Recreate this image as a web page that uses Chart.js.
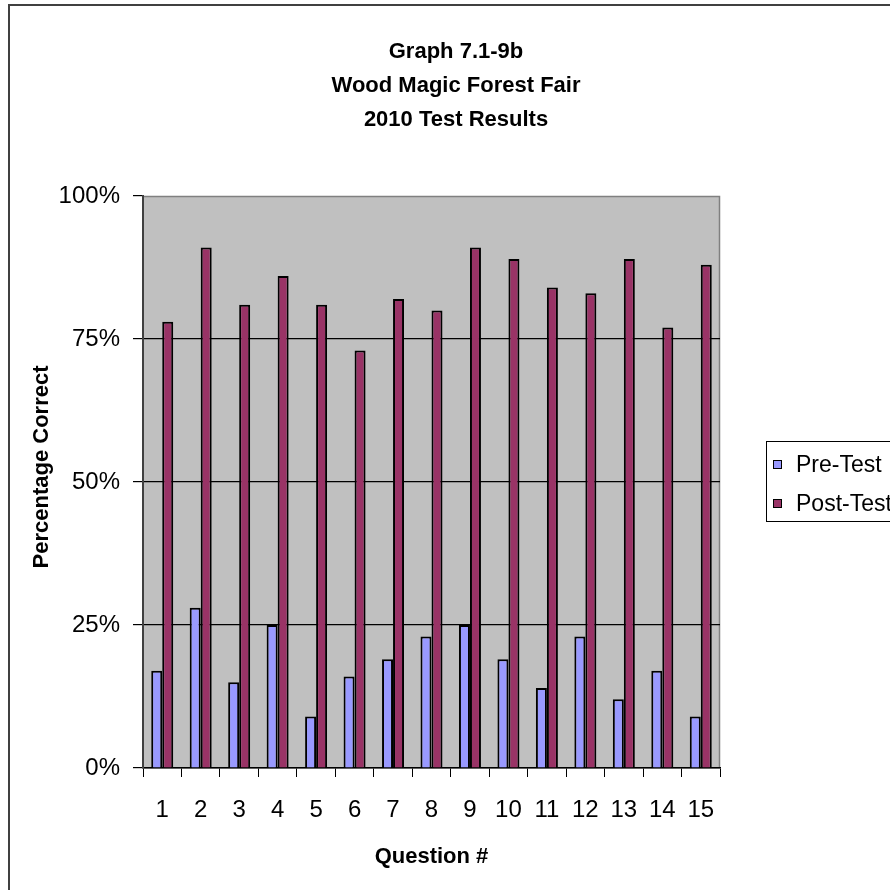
<!DOCTYPE html>
<html>
<head>
<meta charset="utf-8">
<script src="https://cdn.jsdelivr.net/npm/chart.js@4/dist/chart.umd.min.js"></script>
<style>
body{margin:0;background:#fff;overflow:hidden}
#wrap{position:relative;width:890px;height:890px}
#frame{position:absolute;left:8px;top:4px;width:1000px;height:1000px;border:2px solid #404040}
canvas{position:absolute;left:0;top:0}
</style>
</head>
<body>
<div id="wrap">
<div id="frame"></div>
<canvas id="c" width="890" height="890"></canvas>
</div>
<script>

const questions=["1","2","3","4","5","6","7","8","9","10","11","12","13","14","15"]
const preTest=[17,28,15,25,9,16,19,23,25,19,14,23,12,17,9]
const postTest=[78,91,81,86,81,73,82,80,91,89,84,83,89,77,88]
const titleLines=["Graph 7.1-9b","Wood Magic Forest Fair","2010 Test Results"]
const yTitle="Percentage Correct"
const xTitle="Question #"
const seriesNames=["Pre-Test","Post-Test"]

const FONT="'Liberation Sans', Arial, sans-serif"

const decor={
id:"decor",
beforeDraw(ch){
const a=ch.chartArea,ctx=ch.ctx
ctx.save()
ctx.fillStyle="#c0c0c0"
ctx.fillRect(a.left,a.top,a.right-a.left,a.bottom-a.top)
ctx.strokeStyle="#808080"
ctx.lineWidth=1.5
ctx.beginPath()
ctx.moveTo(a.left,a.top+0.5)
ctx.lineTo(a.right-0.5,a.top+0.5)
ctx.lineTo(a.right-0.5,a.bottom)
ctx.stroke()
ctx.restore()
},
afterDraw(ch){
const ctx=ch.ctx,a=ch.chartArea
ctx.save()
ctx.fillStyle="#000"
ctx.font="bold 22px "+FONT
ctx.textAlign="center"
ctx.textBaseline="alphabetic"
titleLines.forEach((t,i)=>ctx.fillText(t,456,58+i*34))
ctx.fillText(xTitle,(a.left+a.right)/2,863)
ctx.translate(42,467)
ctx.rotate(-Math.PI/2)
ctx.textBaseline="middle"
ctx.fillText(yTitle,0,0)
ctx.restore()

// legend box
ctx.save()
ctx.strokeStyle="#000"
ctx.lineWidth=1
ctx.strokeRect(766.5,441.5,200,80)
ctx.font="23px "+FONT
ctx.textAlign="left"
ctx.textBaseline="alphabetic"
ch.data.datasets.forEach((d,i)=>{
const y=460+i*39
ctx.fillStyle=d.backgroundColor
ctx.fillRect(773,y,8,8)
ctx.strokeStyle="#000"
ctx.strokeRect(773.5,y+0.5,8,8)
ctx.fillStyle="#000"
ctx.fillText(d.label,796,y+12)
})
ctx.restore()
}
}

new Chart(document.getElementById("c"),{
type:"bar",
data:{
labels:questions,
datasets:[
{label:seriesNames[0],data:preTest,backgroundColor:"#9999ff",borderColor:"#000",borderWidth:2},
{label:seriesNames[1],data:postTest,backgroundColor:"#993366",borderColor:"#000",borderWidth:2}
]
},
options:{
responsive:false,
animation:false,
layout:{padding:{top:196,right:170,left:0,bottom:0}},
datasets:{bar:{categoryPercentage:0.572,barPercentage:1}},
plugins:{legend:{display:false},title:{display:false},tooltip:{enabled:false}},
scales:{
x:{
afterFit(s){s.height=122},
grid:{offset:true,drawOnChartArea:false,drawTicks:true,tickLength:9,tickColor:"#000",color:"#000"},
border:{color:"#000",width:1.5},
ticks:{color:"#000",font:{family:FONT,size:24},padding:19,maxRotation:0,autoSkip:false}
},
y:{
min:0,max:100,
afterFit(s){s.width=143},
grid:{
color:c=>c.tick&&c.tick.value===100?"rgba(0,0,0,0)":"#000",
tickColor:"#000",tickLength:10,lineWidth:1.2
},
border:{color:"#404040",width:2},
ticks:{stepSize:25,color:"#000",font:{family:FONT,size:24},padding:13,callback:v=>v+"%"}
}
}
},
plugins:[decor]
})

</script>
</body>
</html>
